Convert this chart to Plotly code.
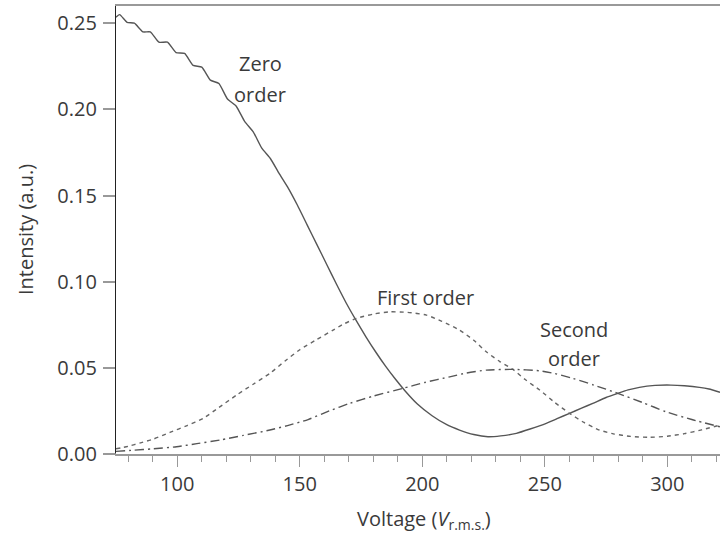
import plotly.graph_objects as go

# Zero order (solid)
zero_x = [75, 76.5, 79.5, 82.5, 86, 89, 92.5, 96, 99.5, 103, 106.5, 110, 113.5, 117, 120.5, 124,
          127.5, 131, 134.5, 138, 141.5, 145, 149, 153, 157, 161, 165, 169, 173, 177, 181, 185,
          189, 193, 198, 204, 210, 215.2, 221, 226.8, 232, 238.4, 244, 250.6, 255, 260.1, 265, 269.6,
          275, 279.8, 284, 288.6, 295, 301.5, 307, 313.1, 317, 321.5]
zero_y = [0.2535, 0.2550, 0.2505, 0.2500, 0.2450, 0.2450, 0.2390, 0.2390, 0.2330, 0.2325, 0.2255,
          0.2245, 0.2170, 0.2150, 0.2060, 0.2020, 0.1930, 0.1870, 0.1775, 0.1715, 0.1630, 0.1550,
          0.1445, 0.1330, 0.1215, 0.1100, 0.0985, 0.0875, 0.0775, 0.0680, 0.0592, 0.0510,
          0.0435, 0.0366, 0.0290, 0.0222, 0.0170, 0.0139, 0.0113, 0.0100, 0.0105, 0.0120, 0.0145,
          0.0178, 0.0205, 0.0236, 0.0266, 0.0294, 0.0328, 0.0352, 0.0372, 0.0387, 0.0398, 0.0400,
          0.0396, 0.0387, 0.0377, 0.0358]

# First order (dashed)
first_x = [75, 80, 85, 90, 97, 104, 110.6, 117, 124.2, 131, 137.8, 144, 150, 157, 163.6, 168, 173.1,
           180, 186.7, 194, 201.7, 208, 215.2, 221, 226.1, 231.5, 237, 242, 247.9, 254, 260.1, 266,
           272.3, 278, 285, 292.7, 300, 307, 314, 321.5]
first_y = [0.0030, 0.0045, 0.0065, 0.0085, 0.0125, 0.0165, 0.0207, 0.0270, 0.0342, 0.0405, 0.0468,
           0.0540, 0.0605, 0.0665, 0.0719, 0.0755, 0.0787, 0.0812, 0.0825, 0.0822, 0.0806, 0.0770,
           0.0719, 0.0660, 0.0593, 0.0538, 0.0491, 0.0432, 0.0371, 0.0300, 0.0236, 0.0183, 0.0139,
           0.0117, 0.0102, 0.0097, 0.0103, 0.0118, 0.0140, 0.0168]

# Second order (dash-dot)
second_x = [75, 82, 90, 99.7, 108, 117.4, 127, 137.8, 145, 153.4, 162, 170.4, 180, 192.1, 201, 211.2,
            218, 226.1, 237, 247.9, 254, 261.4, 270, 279.8, 290, 299.5, 310, 321.5]
second_y = [0.0015, 0.0022, 0.0030, 0.0042, 0.0060, 0.0081, 0.0108, 0.0139, 0.0165, 0.0200, 0.0250,
            0.0294, 0.0336, 0.0381, 0.0415, 0.0448, 0.0470, 0.0487, 0.0491, 0.0483, 0.0467, 0.0439,
            0.0400, 0.0352, 0.0298, 0.0245, 0.0200, 0.0158]

x_ticks = [100, 150, 200, 250, 300]
y_ticks = [0.00, 0.05, 0.10, 0.15, 0.20, 0.25]
y_tick_labels = ["0.00", "0.05", "0.10", "0.15", "0.20", "0.25"]

FONT = "Open Sans"
TXT = "#3a3a3a"

fig = go.Figure()
fig.add_trace(go.Scatter(x=zero_x, y=zero_y, mode="lines",
                         line=dict(color="#555555", width=1.4, shape="spline", smoothing=0.5)))
fig.add_trace(go.Scatter(x=first_x, y=first_y, mode="lines",
                         line=dict(color="#666666", width=1.4, dash="4px,4px", shape="spline", smoothing=0.6)))
fig.add_trace(go.Scatter(x=second_x, y=second_y, mode="lines",
                         line=dict(color="#555555", width=1.4, dash="9px,4px,2px,4px", shape="spline", smoothing=0.6)))

ann = [
    dict(text="Zero", x=133.8, y=0.2269),
    dict(text="order", x=133.8, y=0.2084),
    dict(text="First order", x=201.5, y=0.0911),
    dict(text="Second", x=261.9, y=0.0720),
    dict(text="order", x=261.9, y=0.0557),
]
annotations = [dict(text=a["text"], x=a["x"], y=a["y"], xref="x", yref="y", showarrow=False,
                    xanchor="center", yanchor="middle", font=dict(family=FONT, size=20, color=TXT))
               for a in ann]
annotations.append(dict(text="Voltage (<i>V</i><sub>r.m.s.</sub>)", x=(424 - 116) / 604, y=0,
                        xref="paper", yref="paper", xanchor="center", yanchor="middle", yshift=-65,
                        showarrow=False, font=dict(family=FONT, size=20, color=TXT)))
annotations.append(dict(text="Intensity (a.u.)", x=(25 - 116) / 604, y=0.5, xref="paper", yref="paper",
                        xanchor="center", yanchor="middle", textangle=-90, showarrow=False,
                        font=dict(family=FONT, size=20, color=TXT)))

fig.update_layout(
    width=720, height=536,
    margin=dict(l=116, r=0, t=6, b=82, autoexpand=False),
    paper_bgcolor="white", plot_bgcolor="white",
    showlegend=False,
    annotations=annotations,
    shapes=[dict(type="line", xref="paper", yref="paper", x0=-11 / 604, x1=0, y0=0, y1=0,
                 line=dict(color="#999999", width=1.5))],
)
fig.update_xaxes(range=[75, 321.5], tickvals=x_ticks, ticks="outside", ticklen=11, tickwidth=1.3,
                 tickcolor="#999999", showline=True, linecolor="#999999", linewidth=1.5, mirror=True,
                 showgrid=False, zeroline=False, automargin=False,
                 minor=dict(dtick=10, tick0=0, ticks="outside", ticklen=6, tickwidth=1.2, tickcolor="#999999"),
                 tickfont=dict(family=FONT, size=20, color=TXT))
fig.update_yaxes(range=[0, 0.26], tickvals=y_ticks, ticktext=y_tick_labels, ticks="outside", ticklen=12,
                 tickwidth=1.5, tickcolor="#999999", showline=True, linecolor="#222222", linewidth=1.2,
                 showgrid=False, zeroline=False, automargin=False, ticklabelstandoff=2,
                 tickfont=dict(family=FONT, size=20, color=TXT))

fig.write_html("out.html", config={"displayModeBar": False},
               post_script="document.body.style.margin='0';document.body.style.overflow='hidden';")
